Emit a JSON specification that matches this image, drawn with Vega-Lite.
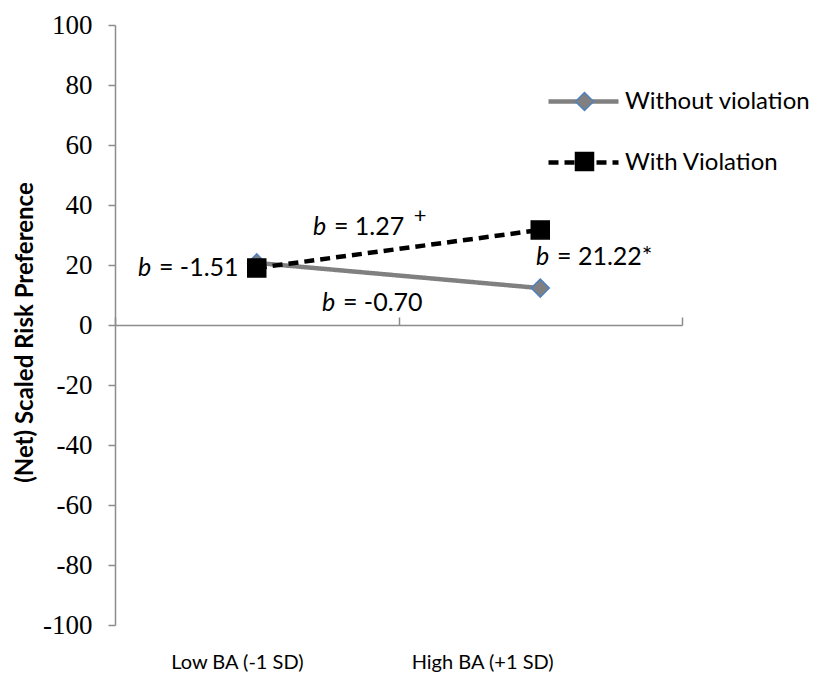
{
  "$schema": "https://vega.github.io/schema/vega-lite/v6.json",
  "width": 567,
  "height": 600,
  "autosize": "none",
  "padding": {"left": 115, "top": 25, "right": 136, "bottom": 50},
  "config": {"view": {"stroke": null}, "font": "Lato"},
  "datasets": {
    "points": [
      {"group": "Low BA (-1 SD)", "pos": 0.5, "series": "Without violation", "value": 20.7},
      {"group": "High BA (+1 SD)", "pos": 1.5, "series": "Without violation", "value": 12.3},
      {"group": "Low BA (-1 SD)", "pos": 0.5, "series": "With Violation", "value": 19},
      {"group": "High BA (+1 SD)", "pos": 1.5, "series": "With Violation", "value": 31.7}
    ],
    "notes": [
      {"pos": 0.081, "value": 19, "sym": "b", "text": "= -1.51"},
      {"pos": 0.698, "value": 32.7, "sym": "b", "text": "= 1.27"},
      {"pos": 0.73, "value": 7.3, "sym": "b", "text": "= -0.70"},
      {"pos": 1.485, "value": 22.7, "sym": "b", "text": "= 21.22*"}
    ],
    "sups": [
      {"pos": 1.054, "value": 36.3, "text": "+"}
    ]
  },
  "encoding": {
    "y": {
      "field": "value",
      "type": "quantitative",
      "scale": {"domain": [-100, 100], "nice": false, "zero": false},
      "axis": {
        "title": "(Net) Scaled Risk Preference",
        "titleFont": "Lato",
        "titleFontWeight": "bold",
        "titleFontSize": 24,
        "titleColor": "black",
        "titleAngle": -90,
        "titleX": -90,
        "titleY": 307,
        "titleAlign": "center",
        "titleBaseline": "middle",
        "values": [-100, -80, -60, -40, -20, 0, 20, 40, 60, 80, 100],
        "labelExpr": "toString(datum.value)",
        "grid": false,
        "domainColor": "#8c8c8c",
        "domainWidth": 1.5,
        "tickColor": "#8c8c8c",
        "tickWidth": 1.5,
        "tickSize": 7,
        "labelFont": "Liberation Serif",
        "labelFontSize": 27,
        "labelColor": "black",
        "labelPadding": 16
      }
    }
  },
  "resolve": {"axis": {"x": "independent"}},
  "layer": [
    {
      "data": {"name": "points"},
      "mark": {"type": "line", "strokeWidth": 4.5},
      "encoding": {
        "x": {
          "field": "pos",
          "type": "quantitative",
          "scale": {"domain": [0, 2], "nice": false, "zero": false},
          "axis": {
            "values": [0.43, 1.295],
            "labelExpr": "datum.value < 1 ? 'Low BA (-1 SD)' : 'High BA (+1 SD)'",
            "domain": false,
            "ticks": false,
            "grid": false,
            "title": null,
            "labelFont": "Lato",
            "labelFontSize": 20,
            "labelColor": "black",
            "labelPadding": 27
          }
        },
        "color": {
          "field": "series",
          "type": "nominal",
          "sort": "descending",
          "scale": {"range": ["#808080", "#000000"]},
          "legend": {
            "title": null,
            "orient": "none",
            "legendX": 431,
            "legendY": 39,
            "padding": 0,
            "symbolType": "stroke",
            "symbolSize": 4900,
            "symbolStrokeWidth": 4.5,
            "labelFont": "Lato",
            "labelFontSize": 24,
            "labelColor": "black",
            "labelLimit": 0,
            "labelOffset": 4,
            "rowPadding": 11
          }
        },
        "strokeDash": {
          "field": "series",
          "type": "nominal",
          "sort": "descending",
          "scale": {"range": [[1, 0], [10, 6]]},
          "legend": {
            "title": null,
            "orient": "none",
            "legendX": 431,
            "legendY": 39,
            "padding": 0,
            "symbolType": "stroke",
            "symbolSize": 4900,
            "symbolStrokeWidth": 4.5,
            "labelFont": "Lato",
            "labelFontSize": 24,
            "labelColor": "black",
            "labelLimit": 0,
            "labelOffset": 4,
            "rowPadding": 11
          }
        }
      }
    },
    {
      "data": {"name": "points"},
      "mark": {"type": "point", "filled": true, "size": 324, "strokeWidth": 1.5, "opacity": 1},
      "encoding": {
        "x": {"field": "pos", "type": "quantitative", "axis": null},
        "shape": {
          "field": "series",
          "type": "nominal",
          "scale": {"domain": ["Without violation", "With Violation"], "range": ["diamond", "square"]},
          "legend": {
            "title": null,
            "orient": "none",
            "legendX": 459,
            "legendY": 66,
            "padding": 0,
            "symbolSize": 324,
            "symbolStrokeWidth": 1.5,
            "labelFont": "Lato",
            "labelFontSize": 21,
            "labelExpr": "''",
            "labelOffset": 0,
            "rowPadding": 35
          }
        },
        "fill": {
          "field": "series",
          "type": "nominal",
          "scale": {"domain": ["Without violation", "With Violation"], "range": ["#808080", "#000000"]},
          "legend": {
            "title": null,
            "orient": "none",
            "legendX": 459,
            "legendY": 66,
            "padding": 0,
            "symbolSize": 324,
            "symbolStrokeWidth": 1.5,
            "labelFont": "Lato",
            "labelFontSize": 21,
            "labelExpr": "''",
            "labelOffset": 0,
            "rowPadding": 35
          }
        },
        "stroke": {
          "field": "series",
          "type": "nominal",
          "scale": {"domain": ["Without violation", "With Violation"], "range": ["#4F81BD", "#000000"]},
          "legend": {
            "title": null,
            "orient": "none",
            "legendX": 459,
            "legendY": 66,
            "padding": 0,
            "symbolSize": 324,
            "symbolStrokeWidth": 1.5,
            "labelFont": "Lato",
            "labelFontSize": 21,
            "labelExpr": "''",
            "labelOffset": 0,
            "rowPadding": 35
          }
        }
      }
    },
    {
      "data": {"name": "notes"},
      "mark": {"type": "text", "align": "left", "baseline": "middle", "fontStyle": "italic", "fontSize": 25, "font": "Lato", "color": "black"},
      "encoding": {
        "x": {
          "field": "pos",
          "type": "quantitative",
          "axis": {
            "values": [0, 1, 2],
            "labels": false,
            "domain": true,
            "ticks": true,
            "grid": false,
            "title": null,
            "offset": -300,
            "domainColor": "#8c8c8c",
            "domainWidth": 1.5,
            "tickColor": "#8c8c8c",
            "tickWidth": 1.5,
            "tickSize": 8
          }
        },
        "text": {"field": "sym"}
      }
    },
    {
      "data": {"name": "notes"},
      "mark": {"type": "text", "align": "left", "baseline": "middle", "dx": 21, "fontSize": 25, "font": "Lato", "color": "black"},
      "encoding": {
        "x": {"field": "pos", "type": "quantitative", "axis": null},
        "text": {"field": "text"}
      }
    },
    {
      "data": {"name": "sups"},
      "mark": {"type": "text", "align": "left", "baseline": "middle", "fontSize": 22, "font": "Lato", "color": "black"},
      "encoding": {
        "x": {"field": "pos", "type": "quantitative", "axis": null},
        "text": {"field": "text"}
      }
    }
  ]
}
